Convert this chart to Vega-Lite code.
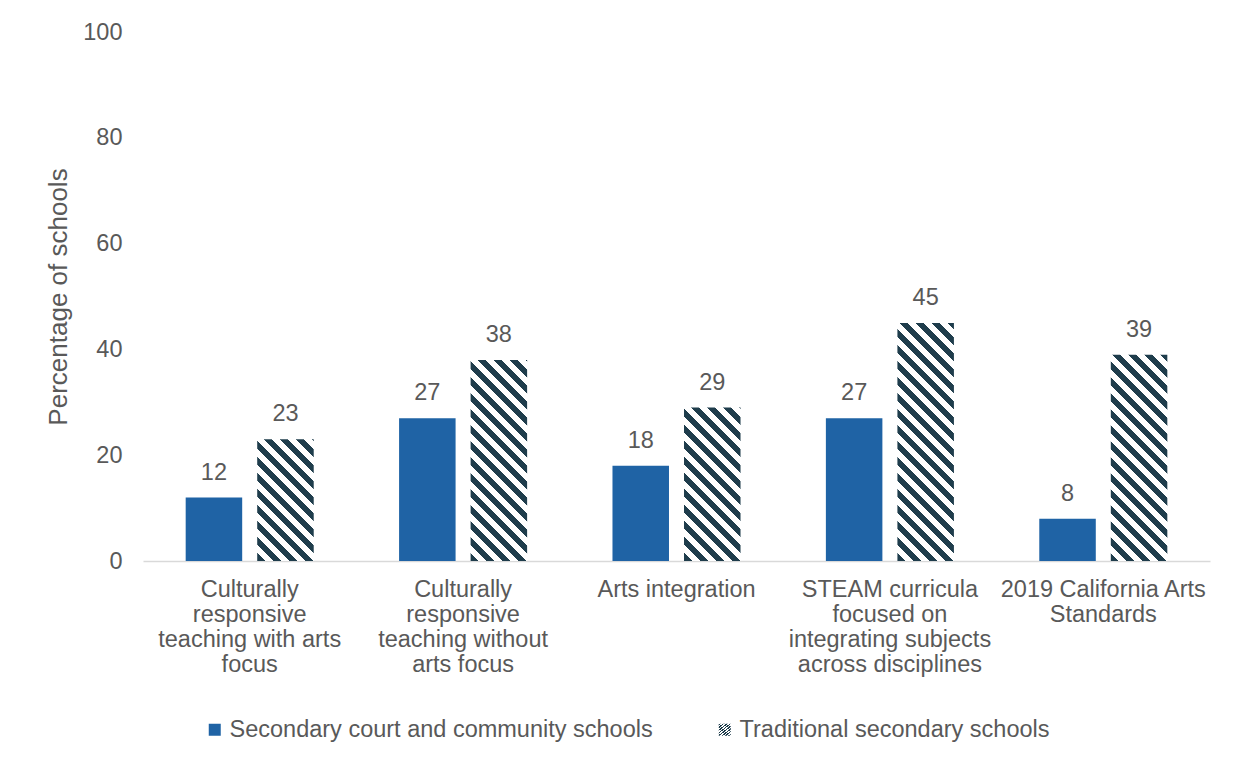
{
  "$schema": "https://vega.github.io/schema/vega-lite/v6.json",
  "width": 1067,
  "height": 529,
  "autosize": "none",
  "padding": {"left": 143, "top": 32, "right": 25, "bottom": 206},
  "background": "white",
  "data": {
    "values": [
      {"category": "Culturally responsive teaching with arts focus", "series": "Secondary court and community schools", "value": 12},
      {"category": "Culturally responsive teaching with arts focus", "series": "Traditional secondary schools", "value": 23},
      {"category": "Culturally responsive teaching without arts focus", "series": "Secondary court and community schools", "value": 27},
      {"category": "Culturally responsive teaching without arts focus", "series": "Traditional secondary schools", "value": 38},
      {"category": "Arts integration", "series": "Secondary court and community schools", "value": 18},
      {"category": "Arts integration", "series": "Traditional secondary schools", "value": 29},
      {"category": "STEAM curricula focused on integrating subjects across disciplines", "series": "Secondary court and community schools", "value": 27},
      {"category": "STEAM curricula focused on integrating subjects across disciplines", "series": "Traditional secondary schools", "value": 45},
      {"category": "2019 California Arts Standards", "series": "Secondary court and community schools", "value": 8},
      {"category": "2019 California Arts Standards", "series": "Traditional secondary schools", "value": 39}
    ]
  },
  "encoding": {
    "x": {
      "field": "category", "type": "nominal", "sort": null,
      "scale": {"paddingInner": 0.4, "paddingOuter": 0.2},
      "axis": {
        "title": null, "labelAngle": 0, "ticks": false,
        "domainColor": "#D9D9D9", "domainWidth": 1.5,
        "labelFontSize": 23.5, "labelColor": "#595959", "labelPadding": 16,
        "labelLimit": 0, "labelLineHeight": 25, "labelBaseline": "top",
        "labelExpr": "datum.value === 'Culturally responsive teaching with arts focus' ? ['Culturally','responsive','teaching with arts','focus'] : datum.value === 'Culturally responsive teaching without arts focus' ? ['Culturally','responsive','teaching without','arts focus'] : datum.value === 'STEAM curricula focused on integrating subjects across disciplines' ? ['STEAM curricula','focused on','integrating subjects','across disciplines'] : datum.value === '2019 California Arts Standards' ? ['2019 California Arts','Standards'] : datum.value"
      }
    },
    "xOffset": {
      "field": "series", "type": "nominal",
      "sort": ["Secondary court and community schools", "Traditional secondary schools"],
      "scale": {"paddingInner": 0.21, "paddingOuter": 0}
    },
    "y": {
      "field": "value", "type": "quantitative",
      "scale": {"domain": [0, 100]},
      "axis": {
        "values": [0, 20, 40, 60, 80, 100],
        "grid": false, "domain": false, "ticks": false,
        "labelFontSize": 23.5, "labelColor": "#595959", "labelPadding": 21,
        "title": "Percentage of schools", "titleFontSize": 26, "titleFontWeight": "normal",
        "titleColor": "#595959", "titlePadding": 11
      }
    }
  },
  "layer": [
    {
      "mark": {"type": "bar"},
      "encoding": {
        "opacity": {
          "field": "series", "type": "ordinal",
          "scale": {
            "type": "ordinal",
            "domain": ["Traditional secondary schools", "Secondary court and community schools"],
            "range": [1, 1]
          },
          "legend": {
            "values": ["Traditional secondary schools"],
            "orient": "none", "legendX": 570, "legendY": 686,
            "direction": "horizontal", "title": null,
            "symbolType": "square", "symbolSize": 144, "symbolStrokeWidth": 0,
            "symbolFillColor": {"gradient": "linear", "x1": 0, "y1": 1, "x2": 1, "y2": 0, "stops": [
              {"offset": 0, "color": "#1f3d4c"}, {"offset": 0.33, "color": "#1f3d4c"},
              {"offset": 0.33, "color": "#ffffff"}, {"offset": 0.67, "color": "#ffffff"},
              {"offset": 0.67, "color": "#1f3d4c"}, {"offset": 1, "color": "#1f3d4c"}
            ]},
            "labelFontSize": 23.5, "labelColor": "#595959", "labelOffset": 3, "labelLimit": 0
          }
        },
        "color": {
          "field": "series", "type": "nominal",
          "scale": {
            "domain": ["Secondary court and community schools", "Traditional secondary schools"],
            "range": ["#1F63A5", "#1f3d4c"]
          },
          "legend": {
            "values": ["Secondary court and community schools"],
            "orient": "none", "legendX": 60, "legendY": 686,
            "direction": "horizontal", "title": null,
            "symbolType": "square", "symbolSize": 144, "symbolStrokeWidth": 0,
            "labelFontSize": 23.5, "labelColor": "#595959", "labelOffset": 3, "labelLimit": 0
          },
          "condition": [
            {
              "test": "datum.series === 'Traditional secondary schools' && datum.category === 'Culturally responsive teaching with arts focus'",
              "value": {"gradient": "linear", "x1": 0, "y1": 1, "x2": 0.5595, "y2": -0.2045, "stops": [
                {"offset": 0, "color": "#1f3d4c"},
                {"offset": 0.0449, "color": "#1f3d4c"}, {"offset": 0.0449, "color": "#ffffff"},
                {"offset": 0.0898, "color": "#ffffff"}, {"offset": 0.0898, "color": "#1f3d4c"},
                {"offset": 0.1347, "color": "#1f3d4c"}, {"offset": 0.1347, "color": "#ffffff"},
                {"offset": 0.1796, "color": "#ffffff"}, {"offset": 0.1796, "color": "#1f3d4c"},
                {"offset": 0.2245, "color": "#1f3d4c"}, {"offset": 0.2245, "color": "#ffffff"},
                {"offset": 0.2694, "color": "#ffffff"}, {"offset": 0.2694, "color": "#1f3d4c"},
                {"offset": 0.3143, "color": "#1f3d4c"}, {"offset": 0.3143, "color": "#ffffff"},
                {"offset": 0.3592, "color": "#ffffff"}, {"offset": 0.3592, "color": "#1f3d4c"},
                {"offset": 0.4041, "color": "#1f3d4c"}, {"offset": 0.4041, "color": "#ffffff"},
                {"offset": 0.4490, "color": "#ffffff"}, {"offset": 0.4490, "color": "#1f3d4c"},
                {"offset": 0.4939, "color": "#1f3d4c"}, {"offset": 0.4939, "color": "#ffffff"},
                {"offset": 0.5388, "color": "#ffffff"}, {"offset": 0.5388, "color": "#1f3d4c"},
                {"offset": 0.5837, "color": "#1f3d4c"}, {"offset": 0.5837, "color": "#ffffff"},
                {"offset": 0.6286, "color": "#ffffff"}, {"offset": 0.6286, "color": "#1f3d4c"},
                {"offset": 0.6735, "color": "#1f3d4c"}, {"offset": 0.6735, "color": "#ffffff"},
                {"offset": 0.7184, "color": "#ffffff"}, {"offset": 0.7184, "color": "#1f3d4c"},
                {"offset": 0.7633, "color": "#1f3d4c"}, {"offset": 0.7633, "color": "#ffffff"},
                {"offset": 0.8082, "color": "#ffffff"}, {"offset": 0.8082, "color": "#1f3d4c"},
                {"offset": 0.8531, "color": "#1f3d4c"}, {"offset": 0.8531, "color": "#ffffff"},
                {"offset": 0.8980, "color": "#ffffff"}, {"offset": 0.8980, "color": "#1f3d4c"},
                {"offset": 0.9429, "color": "#1f3d4c"}, {"offset": 0.9429, "color": "#ffffff"},
                {"offset": 0.9878, "color": "#ffffff"}, {"offset": 0.9878, "color": "#1f3d4c"},
                {"offset": 1, "color": "#1f3d4c"}
              ]}
            },
            {
              "test": "datum.series === 'Traditional secondary schools' && datum.category === 'Culturally responsive teaching without arts focus'",
              "value": {"gradient": "linear", "x1": 0, "y1": 1, "x2": 0.3338, "y2": -0.1873, "stops": [
                {"offset": 0, "color": "#1f3d4c"},
                {"offset": 0.0311, "color": "#1f3d4c"}, {"offset": 0.0311, "color": "#ffffff"},
                {"offset": 0.0621, "color": "#ffffff"}, {"offset": 0.0621, "color": "#1f3d4c"},
                {"offset": 0.0932, "color": "#1f3d4c"}, {"offset": 0.0932, "color": "#ffffff"},
                {"offset": 0.1243, "color": "#ffffff"}, {"offset": 0.1243, "color": "#1f3d4c"},
                {"offset": 0.1553, "color": "#1f3d4c"}, {"offset": 0.1553, "color": "#ffffff"},
                {"offset": 0.1864, "color": "#ffffff"}, {"offset": 0.1864, "color": "#1f3d4c"},
                {"offset": 0.2174, "color": "#1f3d4c"}, {"offset": 0.2174, "color": "#ffffff"},
                {"offset": 0.2485, "color": "#ffffff"}, {"offset": 0.2485, "color": "#1f3d4c"},
                {"offset": 0.2796, "color": "#1f3d4c"}, {"offset": 0.2796, "color": "#ffffff"},
                {"offset": 0.3106, "color": "#ffffff"}, {"offset": 0.3106, "color": "#1f3d4c"},
                {"offset": 0.3417, "color": "#1f3d4c"}, {"offset": 0.3417, "color": "#ffffff"},
                {"offset": 0.3728, "color": "#ffffff"}, {"offset": 0.3728, "color": "#1f3d4c"},
                {"offset": 0.4038, "color": "#1f3d4c"}, {"offset": 0.4038, "color": "#ffffff"},
                {"offset": 0.4349, "color": "#ffffff"}, {"offset": 0.4349, "color": "#1f3d4c"},
                {"offset": 0.4660, "color": "#1f3d4c"}, {"offset": 0.4660, "color": "#ffffff"},
                {"offset": 0.4970, "color": "#ffffff"}, {"offset": 0.4970, "color": "#1f3d4c"},
                {"offset": 0.5281, "color": "#1f3d4c"}, {"offset": 0.5281, "color": "#ffffff"},
                {"offset": 0.5592, "color": "#ffffff"}, {"offset": 0.5592, "color": "#1f3d4c"},
                {"offset": 0.5902, "color": "#1f3d4c"}, {"offset": 0.5902, "color": "#ffffff"},
                {"offset": 0.6213, "color": "#ffffff"}, {"offset": 0.6213, "color": "#1f3d4c"},
                {"offset": 0.6523, "color": "#1f3d4c"}, {"offset": 0.6523, "color": "#ffffff"},
                {"offset": 0.6834, "color": "#ffffff"}, {"offset": 0.6834, "color": "#1f3d4c"},
                {"offset": 0.7145, "color": "#1f3d4c"}, {"offset": 0.7145, "color": "#ffffff"},
                {"offset": 0.7455, "color": "#ffffff"}, {"offset": 0.7455, "color": "#1f3d4c"},
                {"offset": 0.7766, "color": "#1f3d4c"}, {"offset": 0.7766, "color": "#ffffff"},
                {"offset": 0.8077, "color": "#ffffff"}, {"offset": 0.8077, "color": "#1f3d4c"},
                {"offset": 0.8387, "color": "#1f3d4c"}, {"offset": 0.8387, "color": "#ffffff"},
                {"offset": 0.8698, "color": "#ffffff"}, {"offset": 0.8698, "color": "#1f3d4c"},
                {"offset": 0.9009, "color": "#1f3d4c"}, {"offset": 0.9009, "color": "#ffffff"},
                {"offset": 0.9319, "color": "#ffffff"}, {"offset": 0.9319, "color": "#1f3d4c"},
                {"offset": 0.9630, "color": "#1f3d4c"}, {"offset": 0.9630, "color": "#ffffff"},
                {"offset": 0.9940, "color": "#ffffff"}, {"offset": 0.9940, "color": "#1f3d4c"},
                {"offset": 1, "color": "#1f3d4c"}
              ]}
            },
            {
              "test": "datum.series === 'Traditional secondary schools' && datum.category === 'Arts integration'",
              "value": {"gradient": "linear", "x1": 0, "y1": 1, "x2": 0.4438, "y2": -0.2049, "stops": [
                {"offset": 0, "color": "#1f3d4c"},
                {"offset": 0.0381, "color": "#1f3d4c"}, {"offset": 0.0381, "color": "#ffffff"},
                {"offset": 0.0762, "color": "#ffffff"}, {"offset": 0.0762, "color": "#1f3d4c"},
                {"offset": 0.1143, "color": "#1f3d4c"}, {"offset": 0.1143, "color": "#ffffff"},
                {"offset": 0.1524, "color": "#ffffff"}, {"offset": 0.1524, "color": "#1f3d4c"},
                {"offset": 0.1906, "color": "#1f3d4c"}, {"offset": 0.1906, "color": "#ffffff"},
                {"offset": 0.2287, "color": "#ffffff"}, {"offset": 0.2287, "color": "#1f3d4c"},
                {"offset": 0.2668, "color": "#1f3d4c"}, {"offset": 0.2668, "color": "#ffffff"},
                {"offset": 0.3049, "color": "#ffffff"}, {"offset": 0.3049, "color": "#1f3d4c"},
                {"offset": 0.3430, "color": "#1f3d4c"}, {"offset": 0.3430, "color": "#ffffff"},
                {"offset": 0.3811, "color": "#ffffff"}, {"offset": 0.3811, "color": "#1f3d4c"},
                {"offset": 0.4192, "color": "#1f3d4c"}, {"offset": 0.4192, "color": "#ffffff"},
                {"offset": 0.4573, "color": "#ffffff"}, {"offset": 0.4573, "color": "#1f3d4c"},
                {"offset": 0.4954, "color": "#1f3d4c"}, {"offset": 0.4954, "color": "#ffffff"},
                {"offset": 0.5335, "color": "#ffffff"}, {"offset": 0.5335, "color": "#1f3d4c"},
                {"offset": 0.5717, "color": "#1f3d4c"}, {"offset": 0.5717, "color": "#ffffff"},
                {"offset": 0.6098, "color": "#ffffff"}, {"offset": 0.6098, "color": "#1f3d4c"},
                {"offset": 0.6479, "color": "#1f3d4c"}, {"offset": 0.6479, "color": "#ffffff"},
                {"offset": 0.6860, "color": "#ffffff"}, {"offset": 0.6860, "color": "#1f3d4c"},
                {"offset": 0.7241, "color": "#1f3d4c"}, {"offset": 0.7241, "color": "#ffffff"},
                {"offset": 0.7622, "color": "#ffffff"}, {"offset": 0.7622, "color": "#1f3d4c"},
                {"offset": 0.8003, "color": "#1f3d4c"}, {"offset": 0.8003, "color": "#ffffff"},
                {"offset": 0.8384, "color": "#ffffff"}, {"offset": 0.8384, "color": "#1f3d4c"},
                {"offset": 0.8765, "color": "#1f3d4c"}, {"offset": 0.8765, "color": "#ffffff"},
                {"offset": 0.9146, "color": "#ffffff"}, {"offset": 0.9146, "color": "#1f3d4c"},
                {"offset": 0.9528, "color": "#1f3d4c"}, {"offset": 0.9528, "color": "#ffffff"},
                {"offset": 0.9909, "color": "#ffffff"}, {"offset": 0.9909, "color": "#1f3d4c"},
                {"offset": 1, "color": "#1f3d4c"}
              ]}
            },
            {
              "test": "datum.series === 'Traditional secondary schools' && datum.category === 'STEAM curricula focused on integrating subjects across disciplines'",
              "value": {"gradient": "linear", "x1": 0, "y1": 1, "x2": 0.2781, "y2": -0.1714, "stops": [
                {"offset": 0, "color": "#1f3d4c"},
                {"offset": 0.0272, "color": "#1f3d4c"}, {"offset": 0.0272, "color": "#ffffff"},
                {"offset": 0.0543, "color": "#ffffff"}, {"offset": 0.0543, "color": "#1f3d4c"},
                {"offset": 0.0815, "color": "#1f3d4c"}, {"offset": 0.0815, "color": "#ffffff"},
                {"offset": 0.1086, "color": "#ffffff"}, {"offset": 0.1086, "color": "#1f3d4c"},
                {"offset": 0.1358, "color": "#1f3d4c"}, {"offset": 0.1358, "color": "#ffffff"},
                {"offset": 0.1630, "color": "#ffffff"}, {"offset": 0.1630, "color": "#1f3d4c"},
                {"offset": 0.1901, "color": "#1f3d4c"}, {"offset": 0.1901, "color": "#ffffff"},
                {"offset": 0.2173, "color": "#ffffff"}, {"offset": 0.2173, "color": "#1f3d4c"},
                {"offset": 0.2444, "color": "#1f3d4c"}, {"offset": 0.2444, "color": "#ffffff"},
                {"offset": 0.2716, "color": "#ffffff"}, {"offset": 0.2716, "color": "#1f3d4c"},
                {"offset": 0.2987, "color": "#1f3d4c"}, {"offset": 0.2987, "color": "#ffffff"},
                {"offset": 0.3259, "color": "#ffffff"}, {"offset": 0.3259, "color": "#1f3d4c"},
                {"offset": 0.3531, "color": "#1f3d4c"}, {"offset": 0.3531, "color": "#ffffff"},
                {"offset": 0.3802, "color": "#ffffff"}, {"offset": 0.3802, "color": "#1f3d4c"},
                {"offset": 0.4074, "color": "#1f3d4c"}, {"offset": 0.4074, "color": "#ffffff"},
                {"offset": 0.4345, "color": "#ffffff"}, {"offset": 0.4345, "color": "#1f3d4c"},
                {"offset": 0.4617, "color": "#1f3d4c"}, {"offset": 0.4617, "color": "#ffffff"},
                {"offset": 0.4889, "color": "#ffffff"}, {"offset": 0.4889, "color": "#1f3d4c"},
                {"offset": 0.5160, "color": "#1f3d4c"}, {"offset": 0.5160, "color": "#ffffff"},
                {"offset": 0.5432, "color": "#ffffff"}, {"offset": 0.5432, "color": "#1f3d4c"},
                {"offset": 0.5703, "color": "#1f3d4c"}, {"offset": 0.5703, "color": "#ffffff"},
                {"offset": 0.5975, "color": "#ffffff"}, {"offset": 0.5975, "color": "#1f3d4c"},
                {"offset": 0.6247, "color": "#1f3d4c"}, {"offset": 0.6247, "color": "#ffffff"},
                {"offset": 0.6518, "color": "#ffffff"}, {"offset": 0.6518, "color": "#1f3d4c"},
                {"offset": 0.6790, "color": "#1f3d4c"}, {"offset": 0.6790, "color": "#ffffff"},
                {"offset": 0.7061, "color": "#ffffff"}, {"offset": 0.7061, "color": "#1f3d4c"},
                {"offset": 0.7333, "color": "#1f3d4c"}, {"offset": 0.7333, "color": "#ffffff"},
                {"offset": 0.7605, "color": "#ffffff"}, {"offset": 0.7605, "color": "#1f3d4c"},
                {"offset": 0.7876, "color": "#1f3d4c"}, {"offset": 0.7876, "color": "#ffffff"},
                {"offset": 0.8148, "color": "#ffffff"}, {"offset": 0.8148, "color": "#1f3d4c"},
                {"offset": 0.8419, "color": "#1f3d4c"}, {"offset": 0.8419, "color": "#ffffff"},
                {"offset": 0.8691, "color": "#ffffff"}, {"offset": 0.8691, "color": "#1f3d4c"},
                {"offset": 0.8962, "color": "#1f3d4c"}, {"offset": 0.8962, "color": "#ffffff"},
                {"offset": 0.9234, "color": "#ffffff"}, {"offset": 0.9234, "color": "#1f3d4c"},
                {"offset": 0.9506, "color": "#1f3d4c"}, {"offset": 0.9506, "color": "#ffffff"},
                {"offset": 0.9777, "color": "#ffffff"}, {"offset": 0.9777, "color": "#1f3d4c"},
                {"offset": 1, "color": "#1f3d4c"}
              ]}
            },
            {
              "test": "datum.series === 'Traditional secondary schools' && datum.category === '2019 California Arts Standards'",
              "value": {"gradient": "linear", "x1": 0, "y1": 1, "x2": 0.3246, "y2": -0.1850, "stops": [
                {"offset": 0, "color": "#1f3d4c"},
                {"offset": 0.0304, "color": "#1f3d4c"}, {"offset": 0.0304, "color": "#ffffff"},
                {"offset": 0.0609, "color": "#ffffff"}, {"offset": 0.0609, "color": "#1f3d4c"},
                {"offset": 0.0913, "color": "#1f3d4c"}, {"offset": 0.0913, "color": "#ffffff"},
                {"offset": 0.1218, "color": "#ffffff"}, {"offset": 0.1218, "color": "#1f3d4c"},
                {"offset": 0.1522, "color": "#1f3d4c"}, {"offset": 0.1522, "color": "#ffffff"},
                {"offset": 0.1826, "color": "#ffffff"}, {"offset": 0.1826, "color": "#1f3d4c"},
                {"offset": 0.2131, "color": "#1f3d4c"}, {"offset": 0.2131, "color": "#ffffff"},
                {"offset": 0.2435, "color": "#ffffff"}, {"offset": 0.2435, "color": "#1f3d4c"},
                {"offset": 0.2740, "color": "#1f3d4c"}, {"offset": 0.2740, "color": "#ffffff"},
                {"offset": 0.3044, "color": "#ffffff"}, {"offset": 0.3044, "color": "#1f3d4c"},
                {"offset": 0.3348, "color": "#1f3d4c"}, {"offset": 0.3348, "color": "#ffffff"},
                {"offset": 0.3653, "color": "#ffffff"}, {"offset": 0.3653, "color": "#1f3d4c"},
                {"offset": 0.3957, "color": "#1f3d4c"}, {"offset": 0.3957, "color": "#ffffff"},
                {"offset": 0.4261, "color": "#ffffff"}, {"offset": 0.4261, "color": "#1f3d4c"},
                {"offset": 0.4566, "color": "#1f3d4c"}, {"offset": 0.4566, "color": "#ffffff"},
                {"offset": 0.4870, "color": "#ffffff"}, {"offset": 0.4870, "color": "#1f3d4c"},
                {"offset": 0.5175, "color": "#1f3d4c"}, {"offset": 0.5175, "color": "#ffffff"},
                {"offset": 0.5479, "color": "#ffffff"}, {"offset": 0.5479, "color": "#1f3d4c"},
                {"offset": 0.5783, "color": "#1f3d4c"}, {"offset": 0.5783, "color": "#ffffff"},
                {"offset": 0.6088, "color": "#ffffff"}, {"offset": 0.6088, "color": "#1f3d4c"},
                {"offset": 0.6392, "color": "#1f3d4c"}, {"offset": 0.6392, "color": "#ffffff"},
                {"offset": 0.6697, "color": "#ffffff"}, {"offset": 0.6697, "color": "#1f3d4c"},
                {"offset": 0.7001, "color": "#1f3d4c"}, {"offset": 0.7001, "color": "#ffffff"},
                {"offset": 0.7305, "color": "#ffffff"}, {"offset": 0.7305, "color": "#1f3d4c"},
                {"offset": 0.7610, "color": "#1f3d4c"}, {"offset": 0.7610, "color": "#ffffff"},
                {"offset": 0.7914, "color": "#ffffff"}, {"offset": 0.7914, "color": "#1f3d4c"},
                {"offset": 0.8218, "color": "#1f3d4c"}, {"offset": 0.8218, "color": "#ffffff"},
                {"offset": 0.8523, "color": "#ffffff"}, {"offset": 0.8523, "color": "#1f3d4c"},
                {"offset": 0.8827, "color": "#1f3d4c"}, {"offset": 0.8827, "color": "#ffffff"},
                {"offset": 0.9132, "color": "#ffffff"}, {"offset": 0.9132, "color": "#1f3d4c"},
                {"offset": 0.9436, "color": "#1f3d4c"}, {"offset": 0.9436, "color": "#ffffff"},
                {"offset": 0.9740, "color": "#ffffff"}, {"offset": 0.9740, "color": "#1f3d4c"},
                {"offset": 1, "color": "#1f3d4c"}
              ]}
            }
          ]
        }
      }
    },
    {
      "mark": {"type": "text", "baseline": "alphabetic", "dy": -18, "fontSize": 23.5, "color": "#595959"},
      "encoding": {"text": {"field": "value", "type": "quantitative"}}
    }
  ],
  "config": {
    "font": "Liberation Sans",
    "view": {"stroke": null}
  }
}
